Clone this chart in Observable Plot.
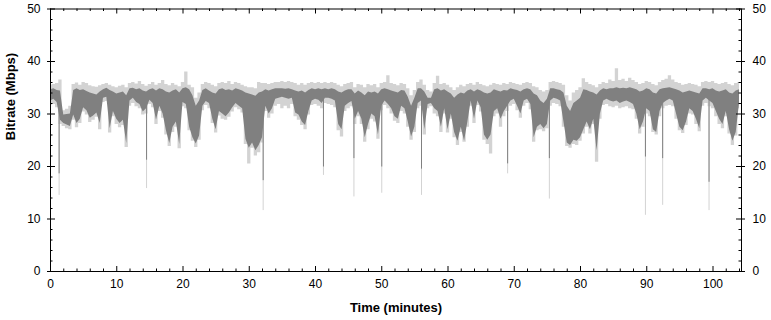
<!DOCTYPE html>
<html>
<head>
<meta charset="utf-8">
<script src="https://cdn.jsdelivr.net/npm/d3@7"></script>
<script src="https://cdn.jsdelivr.net/npm/@observablehq/plot@0.6"></script>
<style>
  html, body { margin: 0; padding: 0; background: #fff; }
</style>
</head>
<body>
<div id="chart"></div>
<script>
// Samples every 0.5 minute (t = 0 … 104), values in Mbps
const sampleStep = 0.5;
const lightHi = [35.5,35.6,35.8,36.5,30.6,30.9,31.5,35.6,35.9,35.5,36.0,35.8,35.4,35.2,35.1,35.4,35.6,35.8,35.5,35.2,
35.0,35.3,35.5,35.0,35.8,36.0,35.7,36.2,35.6,35.3,35.6,36.0,35.5,35.8,36.4,35.6,35.4,35.8,35.5,35.2,
36.0,38.0,35.5,35.0,33.0,34.0,35.6,36.0,35.8,35.5,35.2,35.8,36.0,35.8,36.2,35.6,36.0,35.8,35.5,35.2,
35.0,35.0,34.8,36.0,35.8,35.8,35.6,35.8,36.0,36.0,36.2,36.0,36.2,36.0,35.8,35.5,35.8,35.5,35.8,36.0,
35.8,36.0,35.8,36.0,35.8,36.0,35.8,35.5,35.2,35.6,35.8,36.0,35.0,35.6,35.5,35.0,35.6,35.4,35.6,35.0,
35.8,36.0,37.3,35.8,35.6,35.4,35.8,35.6,34.8,33.5,34.5,36.0,36.5,35.5,34.5,34.2,35.8,37.2,35.6,35.8,
35.5,35.0,34.5,35.0,35.5,35.2,35.6,35.8,35.5,36.0,35.6,35.4,35.2,35.5,35.8,35.6,35.5,35.8,35.6,36.0,
35.8,35.6,35.5,35.8,36.0,35.8,35.2,35.0,34.5,34.2,34.5,36.0,36.2,36.0,35.8,35.5,33.5,32.5,34.0,34.5,
35.0,36.7,36.0,35.6,35.4,35.0,35.6,36.0,35.8,36.5,36.2,38.6,36.4,36.6,36.2,36.8,36.4,36.0,35.6,35.8,
36.2,36.0,35.6,35.4,36.0,36.4,36.6,37.3,36.5,36.0,35.8,35.5,35.6,35.8,35.6,35.5,35.2,36.0,36.2,36.0,
36.2,35.8,35.6,35.8,36.0,35.6,35.4,35.8,36.0];
const darkHi = [34.6,34.8,34.5,34.4,29.8,29.9,30.0,34.5,34.8,34.5,34.6,34.3,34.0,33.8,33.6,34.2,34.6,34.9,34.5,34.2,
33.8,34.0,34.2,33.5,34.8,34.9,34.6,34.8,34.4,34.2,34.6,34.8,34.4,34.8,34.6,34.2,34.0,34.4,34.6,34.0,
34.8,35.0,34.6,33.5,31.5,32.5,34.5,34.8,34.4,34.0,33.8,34.6,34.8,34.5,34.6,34.4,34.8,34.6,34.4,34.0,
33.8,33.6,33.4,34.0,34.2,34.6,34.4,34.6,34.8,34.8,34.8,34.7,34.8,34.6,34.4,34.2,34.4,34.0,34.5,34.8,
34.6,34.8,34.6,34.8,34.6,34.8,34.6,34.2,34.0,34.4,34.6,34.6,33.8,34.4,34.0,33.5,34.2,34.0,34.2,33.8,
34.6,34.8,34.6,34.4,34.2,34.0,34.5,34.4,33.2,31.5,33.0,34.8,34.8,34.2,33.0,33.0,34.6,34.8,34.4,34.6,
34.2,33.8,33.0,33.6,34.0,33.8,34.4,34.6,34.2,34.6,34.4,34.0,33.8,34.0,34.6,34.4,34.2,34.5,34.4,34.8,
34.6,34.5,34.2,34.6,34.8,34.6,33.8,33.5,32.5,32.0,32.8,34.8,34.8,34.6,34.5,34.0,31.5,30.5,32.0,32.5,
33.0,34.6,34.5,34.2,34.0,33.6,34.4,34.8,34.6,34.8,34.8,35.0,34.8,34.9,34.8,35.0,34.8,34.6,34.2,34.4,
34.8,34.6,34.0,33.8,34.6,34.8,34.9,35.0,34.8,34.6,34.4,34.0,34.2,34.4,34.2,34.0,33.8,34.8,34.8,34.6,
34.8,34.4,34.2,34.4,34.6,34.0,33.8,34.4,34.6];
const darkLo = [32.5,32.8,32.2,28.8,28.2,27.9,27.6,29.8,28.2,29.0,31.2,30.6,29.2,29.6,30.2,28.2,33.0,33.2,27.2,30.5,
29.0,28.2,28.8,24.4,32.5,33.0,32.2,31.8,30.4,31.0,32.6,32.0,28.8,31.5,30.0,26.8,24.4,27.5,28.5,24.2,
32.2,31.8,27.5,25.5,24.3,25.8,31.5,32.4,32.0,29.0,27.0,30.5,30.0,29.5,30.2,31.2,32.0,31.5,31.0,25.2,
23.5,24.5,23.0,24.0,25.5,31.5,30.0,31.0,32.8,33.0,33.2,33.0,32.8,33.0,30.2,29.8,28.5,27.8,30.5,32.5,
32.8,32.6,32.0,33.0,33.0,32.8,32.5,28.0,27.0,31.5,32.0,32.4,29.0,30.5,29.0,25.5,28.0,30.0,29.5,26.0,
31.5,32.5,31.8,31.0,29.5,29.0,31.5,31.0,28.5,25.6,27.5,32.0,32.5,27.0,31.8,32.0,31.0,30.5,27.5,31.0,
27.0,30.0,26.5,24.8,27.5,24.8,28.5,32.5,29.0,32.5,31.2,26.0,25.0,26.0,30.5,31.0,29.0,30.5,31.5,32.5,
32.8,31.5,30.0,32.5,32.8,31.8,25.5,27.5,28.0,27.2,28.0,32.5,33.0,32.8,32.5,28.5,24.5,24.0,25.0,24.8,
25.5,27.0,28.5,27.0,29.0,23.0,30.0,32.5,32.8,32.5,32.3,32.5,32.0,32.3,32.5,32.2,31.8,30.0,27.0,28.5,
31.0,30.5,27.0,26.5,30.5,32.0,32.5,32.8,32.5,30.0,27.5,26.8,28.5,31.0,30.5,29.0,27.2,32.5,33.0,32.5,
32.0,30.5,29.0,28.0,30.5,27.0,24.8,26.5,32.0];
const lightLo = [31.6,31.8,31.2,28.0,27.6,27.2,27.0,28.8,27.4,28.2,30.4,29.8,28.4,28.8,29.4,27.0,32.2,32.4,26.4,29.5,
28.0,27.4,27.8,23.6,31.5,32.0,31.4,31.0,29.8,30.0,31.8,31.2,28.0,30.5,29.2,26.0,23.8,26.5,27.5,23.4,
31.4,31.0,26.8,24.8,23.6,25.0,30.6,31.6,31.0,28.2,26.4,29.6,29.0,28.8,29.4,30.4,31.2,30.8,30.2,24.2,
20.5,23.5,22.0,22.6,24.5,30.5,29.2,30.0,31.5,31.8,31.0,31.5,31.0,31.8,29.5,28.8,27.8,27.0,29.8,31.6,
31.8,31.5,31.0,32.0,31.8,31.6,31.2,26.8,25.6,30.5,31.0,31.4,28.0,29.5,28.0,24.6,27.0,29.0,28.5,25.2,
30.6,31.6,31.0,30.0,28.6,28.2,30.5,30.0,27.5,25.0,26.5,31.0,31.5,26.0,31.0,31.4,30.0,29.5,26.5,30.0,
26.4,29.0,25.5,24.0,26.5,24.6,27.5,31.5,28.2,31.6,30.4,25.0,24.2,22.4,29.5,30.0,27.5,29.5,30.5,31.5,
31.8,30.6,29.2,31.5,32.0,30.8,24.6,26.8,27.0,26.6,27.2,31.5,32.0,31.8,31.4,27.5,23.8,23.5,24.2,24.0,
24.8,26.2,27.5,26.2,28.0,20.8,29.0,31.6,31.8,31.4,31.2,31.5,31.0,31.2,31.4,31.0,30.8,29.0,26.2,27.5,
30.0,29.5,26.5,26.0,29.5,31.0,31.5,31.6,31.4,29.0,26.8,26.3,27.8,30.0,29.8,28.0,26.6,31.5,32.0,31.4,
31.0,29.5,28.0,27.2,29.5,26.2,24.0,25.8,31.0];

// Isolated deep drops: time (min), lowest dark value, lowest light value
const spikeTimes = [1.3, 14.5, 32.1, 41.2, 45.8, 50.0, 56.0, 69.0, 75.3, 89.8, 92.4, 99.4];
const spikeDark  = [18.6, 21.2, 17.3, 19.9, 21.5, 19.9, 19.5, 20.5, 21.5, 21.8, 21.5, 17.0];
const spikeLight = [14.5, 15.8, 11.6, 18.3, 14.2, 14.9, 14.5, 18.6, 13.8, 10.7, 12.6, 11.6];

// Axis ticks
const xMajor = [0, 10, 20, 30, 40, 50, 60, 70, 80, 90, 100];
const xMinor = d3.range(2, 104.3, 2).filter(v => v % 10 !== 0);
const yMajor = [0, 10, 20, 30, 40, 50];
const yMinor = d3.range(2, 50, 2).filter(v => v % 10 !== 0);
const xMax = 104.3;

const series = lightHi.map((v, i) => ({
  t: i * sampleStep, lH: v, dH: darkHi[i], dL: darkLo[i], lL: lightLo[i]
}));
const spikes = spikeTimes.map((t, i) => ({t, d: spikeDark[i], l: spikeLight[i]}));

const W = 771, H = 320;
const mL = 50, mR = 30, mT = 8.5, mB = 49;
const pw = W - mL - mR, ph = H - mT - mB;
const dark = "#808080", light = "#d3d3d3";

const chart = Plot.plot({
  width: W, height: H,
  marginLeft: mL, marginRight: mR, marginTop: mT, marginBottom: mB,
  style: {fontFamily: "Arial, 'Liberation Sans', sans-serif", fontSize: "12px", color: "#000", background: "#fff"},
  x: {domain: [0, xMax], axis: null},
  y: {domain: [0, 50], axis: null},
  marks: [
    Plot.areaY(series, {x: "t", y1: "lL", y2: "lH", fill: light, curve: "step"}),
    Plot.ruleX(spikes, {x: "t", y1: "l", y2: 32, stroke: light, strokeWidth: 1}),
    Plot.areaY(series, {x: "t", y1: "dL", y2: "dH", fill: dark, curve: "linear"}),
    Plot.ruleX(spikes, {x: "t", y1: "d", y2: 33, stroke: dark, strokeWidth: 1}),
    Plot.frame({stroke: "#000"}),
    // left ticks
    Plot.tickY(yMajor, {y: d => d, stroke: "#000", insetLeft: -3, insetRight: pw - 5}),
    Plot.tickY(yMinor, {y: d => d, stroke: "#000", insetRight: pw - 2.5}),
    // right ticks
    Plot.tickY(yMajor, {y: d => d, stroke: "#000", insetLeft: pw - 5, insetRight: -4}),
    Plot.tickY(yMinor, {y: d => d, stroke: "#000", insetLeft: pw - 2.5}),
    // bottom ticks
    Plot.tickX(xMajor, {x: d => d, stroke: "#000", insetTop: ph - 5}),
    Plot.tickX(xMinor, {x: d => d, stroke: "#000", insetTop: ph - 2.5}),
    // top ticks
    Plot.tickX(xMajor, {x: d => d, stroke: "#000", insetBottom: ph - 5}),
    Plot.tickX(xMinor, {x: d => d, stroke: "#000", insetBottom: ph - 2.5}),
    // tick labels
    Plot.text(yMajor, {y: d => d, frameAnchor: "left", dx: -10, text: d => String(d), textAnchor: "end", fill: "#000"}),
    Plot.text(yMajor, {y: d => d, frameAnchor: "right", dx: 11, text: d => String(d), textAnchor: "start", fill: "#000"}),
    Plot.text(xMajor, {x: d => d, frameAnchor: "bottom", dy: 16, text: d => String(d), fill: "#000"}),
    // axis titles
    Plot.text(["Bitrate (Mbps)"], {frameAnchor: "left", dx: -40, rotate: -90, text: d => d, fontWeight: "bold", fontSize: 13, fill: "#000"}),
    Plot.text(["Time (minutes)"], {frameAnchor: "bottom", dy: 40, text: d => d, fontWeight: "bold", fontSize: 13, fill: "#000"})
  ]
});
document.getElementById("chart").appendChild(chart);
</script>
</body>
</html>
